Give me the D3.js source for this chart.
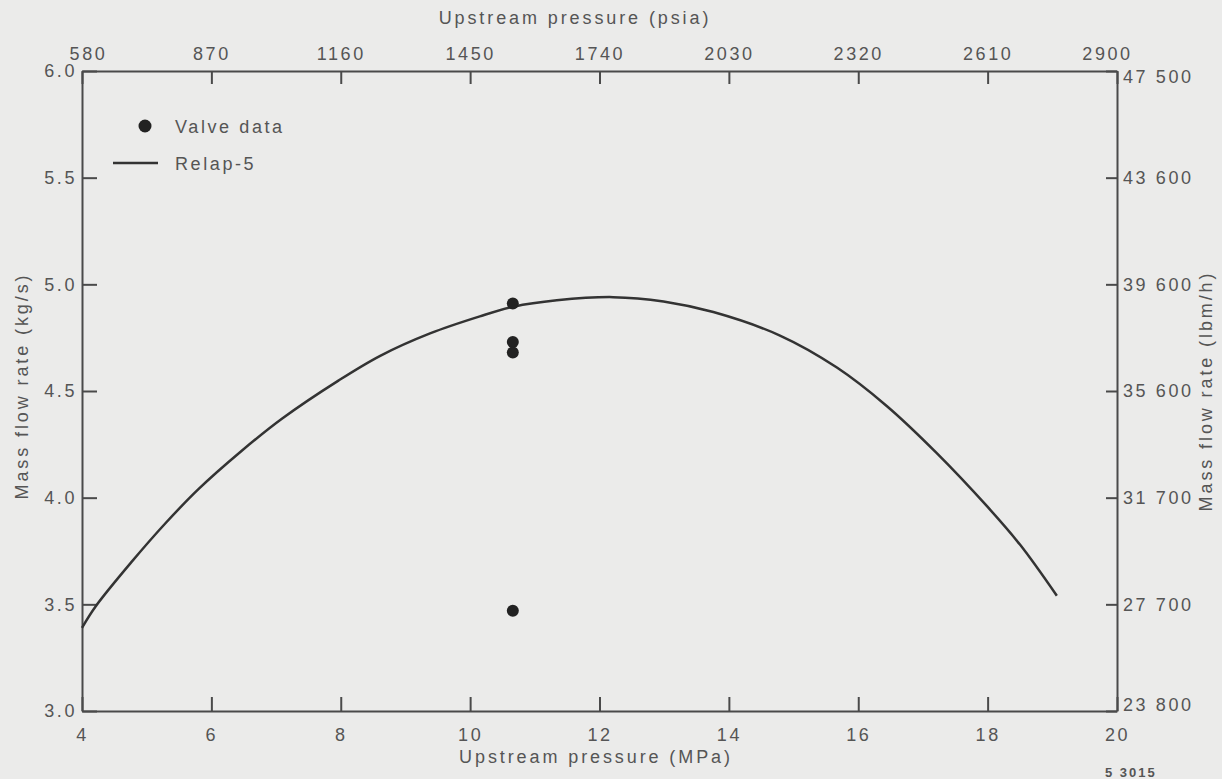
<!DOCTYPE html>
<html>
<head>
<meta charset="utf-8">
<script src="https://cdn.jsdelivr.net/npm/d3@7"></script>
<style>
  html, body { margin: 0; padding: 0; background: #ebebea; }
  svg { display: block; }
  text { font-family: "Liberation Sans", Arial, Helvetica, sans-serif; fill: #555; }
</style>
</head>
<body>
<svg id="chart" width="1222" height="779"></svg>
<script>
// Relap-5 calculated mass flow rate versus upstream pressure
const curvePressure = [4.0, 4.21, 4.77, 5.29, 5.8, 6.47, 7.09, 7.97, 8.61, 9.38, 10.15, 10.67,
                       11.34, 12.21, 12.99, 13.76, 14.79, 15.67, 16.44, 17.21, 17.99, 18.5, 19.07];
const curveFlow     = [3.39, 3.49, 3.7, 3.88, 4.04, 4.22, 4.37, 4.55, 4.665, 4.77, 4.85, 4.895,
                       4.925, 4.94, 4.92, 4.87, 4.76, 4.61, 4.43, 4.21, 3.96, 3.78, 3.54];

// Measured valve data
const valvePressure = [10.66, 10.66, 10.66, 10.66];
const valveFlow     = [4.91, 4.73, 4.68, 3.47];

// Axis ticks
const mpaTicks   = [4, 6, 8, 10, 12, 14, 16, 18, 20];
const psiaLabels = ["580", "870", "1160", "1450", "1740", "2030", "2320", "2610", "2900"];
const kgsTicks   = [3.0, 3.5, 4.0, 4.5, 5.0, 5.5, 6.0];
const lbmLabels  = ["23 800", "27 700", "31 700", "35 600", "39 600", "43 600", "47 500"];

const svg = d3.select("#chart");
const m = { left: 82, top: 71, right: 105, bottom: 68 };
const W = 1222 - m.left - m.right;
const H = 779 - m.top - m.bottom;

const x = d3.scaleLinear().domain([4, 20]).range([0, W]);
const y = d3.scaleLinear().domain([3, 6]).range([H, 0]);

const g = svg.append("g").attr("transform", `translate(${m.left},${m.top})`);

const ink = "#4a4a4a";
const LS = "2.6px";

function styleAxis(sel) {
  sel.select(".domain").attr("stroke", ink).attr("stroke-width", 2);
  sel.selectAll(".tick line").attr("stroke", ink).attr("stroke-width", 2);
  sel.selectAll(".tick text")
    .attr("font-size", 18)
    .style("letter-spacing", LS)
    .attr("fill", "#555");
}

// bottom axis (MPa)
g.append("g").attr("transform", `translate(0,${H})`)
  .call(d3.axisBottom(x).tickValues(mpaTicks).tickFormat(d3.format("d"))
        .tickSizeInner(-14).tickSizeOuter(0).tickPadding(17))
  .call(styleAxis);

// top axis (psia); the end labels sit inside the frame corners
const topAxis = g.append("g")
  .call(d3.axisTop(x).tickValues(mpaTicks).tickFormat((d, i) => psiaLabels[i])
        .tickSizeInner(-13).tickSizeOuter(0).tickPadding(11))
  .call(styleAxis);
topAxis.selectAll(".tick text").attr("dx", (d, i) => i === 0 ? 6 : (i === mpaTicks.length - 1 ? -10 : 0));

// left axis (kg/s)
g.append("g")
  .call(d3.axisLeft(y).tickValues(kgsTicks).tickFormat(d3.format(".1f"))
        .tickSizeInner(-15).tickSizeOuter(0).tickPadding(5))
  .call(styleAxis);

// right axis (lbm/h)
const rightAxis = g.append("g").attr("transform", `translate(${W},0)`)
  .call(d3.axisRight(y).tickValues(kgsTicks).tickFormat((d, i) => lbmLabels[i])
        .tickSizeInner(-11).tickSizeOuter(0).tickPadding(6))
  .call(styleAxis);
rightAxis.selectAll(".tick text").attr("y", (d, i) => i === 0 ? -6 : (i === kgsTicks.length - 1 ? 6 : 0));

// Relap-5 curve
const curve = curvePressure.map((p, i) => [p, curveFlow[i]]);
g.append("path")
  .datum(curve)
  .attr("fill", "none")
  .attr("stroke", "#333")
  .attr("stroke-width", 2.5)
  .attr("d", d3.line().x(d => x(d[0])).y(d => y(d[1])).curve(d3.curveCatmullRom.alpha(0.5)));

// valve data points
g.selectAll("circle.valve")
  .data(valvePressure.map((p, i) => [p, valveFlow[i]]))
  .join("circle")
  .attr("class", "valve")
  .attr("cx", d => x(d[0]))
  .attr("cy", d => y(d[1]))
  .attr("r", 6)
  .attr("fill", "#222");

// legend
const leg = svg.append("g");
leg.append("circle").attr("cx", 145).attr("cy", 126).attr("r", 6.5).attr("fill", "#222");
leg.append("text").attr("x", 175).attr("y", 133).attr("font-size", 18).style("letter-spacing", LS).text("Valve data");
leg.append("line").attr("x1", 113).attr("x2", 158).attr("y1", 163).attr("y2", 163)
  .attr("stroke", "#333").attr("stroke-width", 2.5);
leg.append("text").attr("x", 175).attr("y", 170).attr("font-size", 18).style("letter-spacing", LS).text("Relap-5");

// axis titles
svg.append("text").attr("x", 596).attr("y", 763).attr("text-anchor", "middle")
  .attr("font-size", 18).style("letter-spacing", "2.9px").text("Upstream pressure (MPa)");
svg.append("text").attr("x", 575).attr("y", 24).attr("text-anchor", "middle")
  .attr("font-size", 18).style("letter-spacing", "2.9px").text("Upstream pressure (psia)");
svg.append("text").attr("transform", "translate(28,386) rotate(-90)").attr("text-anchor", "middle")
  .attr("font-size", 18).style("letter-spacing", "2.9px").text("Mass flow rate (kg/s)");
svg.append("text").attr("transform", "translate(1212,391) rotate(-90)").attr("text-anchor", "middle")
  .attr("font-size", 18).style("letter-spacing", "2.9px").text("Mass flow rate (lbm/h)");

// figure number
svg.append("text").attr("x", 1105).attr("y", 777).attr("font-size", 13).attr("font-weight", "bold")
  .style("letter-spacing", "2px").attr("fill", "#444").text("5 3015");
</script>
</body>
</html>
